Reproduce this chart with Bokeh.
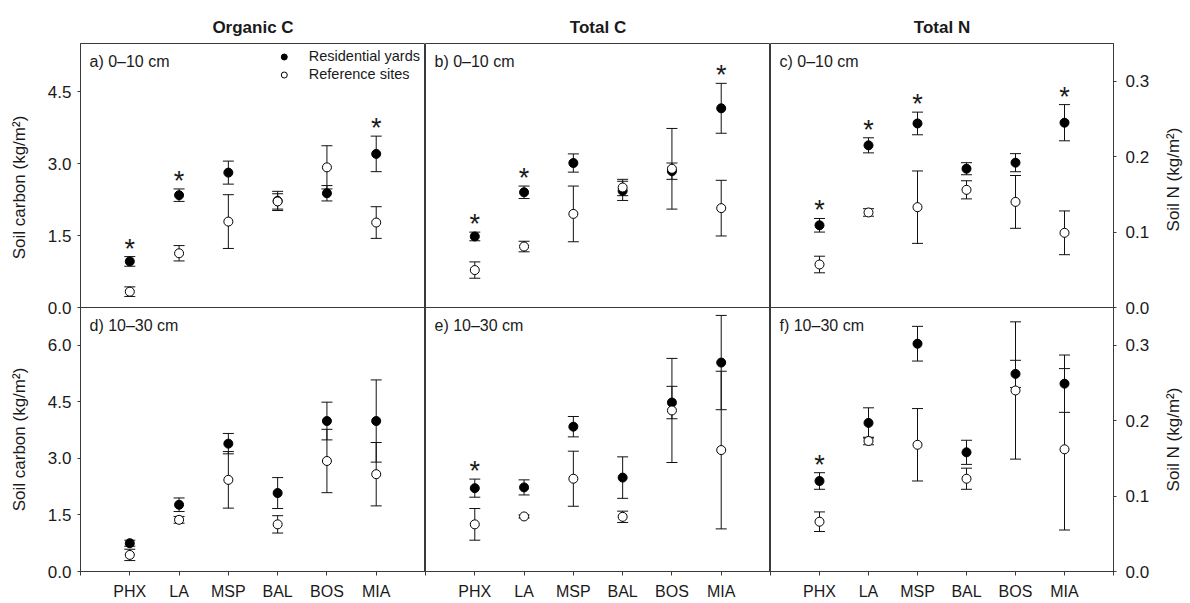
import numpy as np
from math import pi
from bokeh.plotting import figure
from bokeh.models import (Range1d, FixedTicker, Whisker, TeeHead, ColumnDataSource,
                          Label, Legend, LegendItem, Span)
from bokeh.layouts import row
from bokeh.embed import file_html
from bokeh.resources import INLINE
from bokeh.core.properties import value

# ---------------- data ----------------
sites = ["PHX", "LA", "MSP", "BAL", "BOS", "MIA"]

# Organic C, 0-10 cm (kg/m2)
oc_top_res = [0.96, 2.34, 2.81, 2.22, 2.38, 3.20]
oc_top_res_se = [0.10, 0.13, 0.24, 0.20, 0.16, 0.37]
oc_top_ref = [0.33, 1.13, 1.79, 2.21, 2.92, 1.77]
oc_top_ref_se = [0.10, 0.16, 0.56, 0.16, 0.45, 0.33]
oc_top_sig = [True, True, False, False, False, True]

# Organic C, 10-30 cm
oc_bot_res = [0.75, 1.77, 3.39, 2.08, 3.99, 3.99]
oc_bot_res_se = [0.08, 0.18, 0.27, 0.41, 0.50, 1.09]
oc_bot_ref = [0.44, 1.37, 2.43, 1.25, 2.93, 2.58]
oc_bot_ref_se = [0.15, 0.09, 0.75, 0.23, 0.84, 0.84]
oc_bot_sig = [False, False, False, False, False, False]

# Total C, 0-10 cm
tc_top_res = [1.48, 2.40, 3.01, 2.43, 2.84, 4.15]
tc_top_res_se = [0.09, 0.13, 0.19, 0.20, 0.17, 0.52]
tc_top_ref = [0.78, 1.27, 1.95, 2.50, 2.89, 2.07]
tc_top_ref_se = [0.17, 0.11, 0.58, 0.17, 0.84, 0.58]
tc_top_sig = [True, True, False, False, False, True]

# Total C, 10-30 cm
tc_bot_res = [2.21, 2.23, 3.84, 2.49, 4.48, 5.54]
tc_bot_res_se = [0.24, 0.20, 0.27, 0.55, 0.43, 1.25]
tc_bot_ref = [1.25, 1.46, 2.46, 1.45, 4.27, 3.22]
tc_bot_ref_se = [0.42, 0.04, 0.73, 0.15, 1.38, 2.09]
tc_bot_sig = [True, False, False, False, False, False]

# Total N, 0-10 cm
tn_top_res = [0.109, 0.215, 0.244, 0.184, 0.192, 0.245]
tn_top_res_se = [0.009, 0.010, 0.015, 0.008, 0.012, 0.024]
tn_top_ref = [0.057, 0.126, 0.133, 0.156, 0.140, 0.099]
tn_top_ref_se = [0.011, 0.005, 0.048, 0.012, 0.035, 0.029]
tn_top_sig = [True, True, True, False, False, True]

# Total N, 10-30 cm
tn_bot_res = [0.120, 0.197, 0.302, 0.158, 0.262, 0.249]
tn_bot_res_se = [0.011, 0.020, 0.023, 0.016, 0.018, 0.038]
tn_bot_ref = [0.066, 0.173, 0.168, 0.123, 0.240, 0.162]
tn_bot_ref_se = [0.013, 0.005, 0.048, 0.014, 0.091, 0.107]
tn_bot_sig = [True, False, False, False, False, False]

carbon_top_ticks = [0.0, 1.5, 3.0, 4.5]
carbon_bot_ticks = [0.0, 1.5, 3.0, 4.5, 6.0]
n_ticks = [0.0, 0.1, 0.2, 0.3]

column_titles = ["Organic C", "Total C", "Total N"]
panel_labels = [["a) 0\u201310 cm", "d) 10\u201330 cm"],
                ["b) 0\u201310 cm", "e) 10\u201330 cm"],
                ["c) 0\u201310 cm", "f) 10\u201330 cm"]]
carbon_label = "Soil carbon (kg/m\u00b2)"
n_label = "Soil N (kg/m\u00b2)"

# ---------------- style ----------------
FONT = "Liberation Sans"
LINE = "#3a3a3a"
TXT = "#1a1a1a"
FRAME_H = 528
TOP_B = 43
BOT_B = 32
x_pos = list(range(1, len(sites) + 1))


def draw_panel(p, res, res_se, ref, ref_se, sig, rname):
    rs = ColumnDataSource(dict(x=x_pos, y=res,
                               up=[m + s for m, s in zip(res, res_se)],
                               lo=[m - s for m, s in zip(res, res_se)]))
    fs = ColumnDataSource(dict(x=x_pos, y=ref,
                               up=[m + s for m, s in zip(ref, ref_se)],
                               lo=[m - s for m, s in zip(ref, ref_se)]))
    for src in (rs, fs):
        w = Whisker(source=src, base="x", upper="up", lower="lo",
                    y_range_name=rname, line_color="#111111", line_width=1,
                    upper_head=TeeHead(size=11, line_color="#111111", line_width=1),
                    lower_head=TeeHead(size=11, line_color="#111111", line_width=1),
                    level="underlay")
        p.add_layout(w)
    r1 = p.scatter("x", "y", source=rs, size=9, fill_color="black",
                   line_color="black", y_range_name=rname)
    r2 = p.scatter("x", "y", source=fs, size=9, fill_color="white",
                   line_color="black", line_width=1, y_range_name=rname)
    sx, sy = [], []
    for i, s in enumerate(sig):
        if s:
            sx.append(x_pos[i])
            sy.append(max(res[i] + res_se[i], ref[i] + ref_se[i]))
    if sx:
        p.text(x=sx, y=sy, text=["*"] * len(sx), y_range_name=rname,
               text_font=value(FONT), text_font_size="27px", text_color=TXT,
               text_align="center", text_baseline="alphabetic", y_offset=-8)
    return r1, r2


def make_col(ci, fw, top_data, bot_data, top_max, bot_max, top_ticks, bot_ticks,
             side, bl, br):
    p = figure(frame_width=fw, frame_height=FRAME_H,
               x_range=Range1d(0, 7), y_range=Range1d(0, 2 * bot_max),
               x_axis_location="below", y_axis_location=side,
               min_border_left=bl, min_border_right=br,
               min_border_top=TOP_B, min_border_bottom=BOT_B,
               output_backend="svg", toolbar_location=None, tools="",
               title=column_titles[ci])
    p.extra_y_ranges = {"top": Range1d(-top_max, top_max)}
    p.xgrid.visible = False
    p.ygrid.visible = False
    p.outline_line_color = LINE
    p.outline_line_width = 1
    p.background_fill_color = "white"
    p.border_fill_color = "white"

    p.title.align = "center"
    p.title.text_font = FONT
    p.title.text_font_size = "17px"
    p.title.text_font_style = "bold"
    p.title.text_color = TXT
    p.title.standoff = 13

    xa = p.xaxis[0]
    xa.ticker = FixedTicker(ticks=list(range(0, 8)))
    xa.major_label_overrides = {0: "", 7: "", **{x_pos[i]: sites[i] for i in range(len(sites))}}
    for ax in [xa] + list(p.yaxis):
        ax.axis_line_color = LINE
        ax.major_tick_line_color = LINE
        ax.minor_tick_line_color = None
        ax.major_tick_in = 0
        ax.major_tick_out = 4
        ax.major_label_text_font = FONT
        ax.major_label_text_color = TXT
    xa.major_label_text_font_size = "16px"
    xa.major_label_standoff = 7

    if side is not None:
        ya = p.yaxis[0]
        ticks = list(bot_ticks) + [bot_max + t * bot_max / top_max for t in top_ticks]
        labels = ["%.1f" % t for t in bot_ticks] + ["%.1f" % t for t in top_ticks]
        ya.ticker = FixedTicker(ticks=ticks)
        ya.major_label_overrides = {t: l for t, l in zip(ticks, labels)}
        ya.major_label_text_font_size = "17px"
        ya.major_label_standoff = 6 if side == "left" else 9
        ya.major_tick_out = 3

    p.add_layout(Span(location=bot_max, dimension="width", line_color=LINE, line_width=1))

    rt = draw_panel(p, *top_data, "top")
    draw_panel(p, *bot_data, "default")

    for j, yy in enumerate([2 * bot_max, bot_max]):
        p.add_layout(Label(x=0, y=yy, x_offset=9, y_offset=-9, text=panel_labels[ci][j],
                           text_baseline="top", text_align="left",
                           text_font=FONT, text_font_size="16px", text_color=TXT))
    return p, rt


def make_ylabel(width, text, top_shift):
    q = figure(frame_width=width, frame_height=FRAME_H,
               x_range=Range1d(0, 1), y_range=Range1d(0, 2),
               x_axis_location=None, y_axis_location=None,
               min_border_left=0, min_border_right=0,
               min_border_top=TOP_B, min_border_bottom=BOT_B,
               output_backend="svg", toolbar_location=None, tools="")
    q.xgrid.visible = False
    q.ygrid.visible = False
    q.outline_line_color = None
    q.background_fill_color = "white"
    q.border_fill_color = "white"
    q.text(x=[0.5, 0.5], y=[1.5, 0.5], text=[text, text], angle=pi / 2,
           y_offset=[top_shift, 0],
           text_font=value(FONT), text_font_size="17px", text_color=TXT,
           text_align="center", text_baseline="middle")
    return q


lab_left = make_ylabel(38, carbon_label, 12)

col1, (r_res, r_ref) = make_col(
    0, 345,
    (oc_top_res, oc_top_res_se, oc_top_ref, oc_top_ref_se, oc_top_sig),
    (oc_bot_res, oc_bot_res_se, oc_bot_ref, oc_bot_ref_se, oc_bot_sig),
    5.5, 7.0, carbon_top_ticks, carbon_bot_ticks, "left", 42, 0)

legend = Legend(items=[LegendItem(label="Residential yards", renderers=[r_res]),
                       LegendItem(label="Reference sites", renderers=[r_ref])],
                location="top_right", margin=2, padding=3, spacing=2,
                glyph_width=20, glyph_height=15, label_height=15, label_standoff=15,
                label_text_font=FONT, label_text_font_size="14.5px", label_text_color=TXT,
                border_line_alpha=0, background_fill_alpha=0)
col1.add_layout(legend)

col2, _ = make_col(
    1, 345,
    (tc_top_res, tc_top_res_se, tc_top_ref, tc_top_ref_se, tc_top_sig),
    (tc_bot_res, tc_bot_res_se, tc_bot_ref, tc_bot_ref_se, tc_bot_sig),
    5.5, 7.0, carbon_top_ticks, carbon_bot_ticks, None, 0, 0)

col3, _ = make_col(
    2, 343,
    (tn_top_res, tn_top_res_se, tn_top_ref, tn_top_ref_se, tn_top_sig),
    (tn_bot_res, tn_bot_res_se, tn_bot_ref, tn_bot_ref_se, tn_bot_sig),
    0.35, 0.35, n_ticks, n_ticks, "right", 0, 42)

lab_right = make_ylabel(35, n_label, 4)

layout = row(lab_left, col1, col2, col3, lab_right)
open("out.html", "w").write(file_html(layout, INLINE))
